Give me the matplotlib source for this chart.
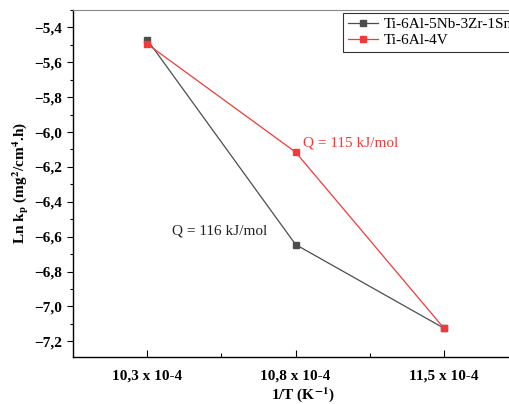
import numpy as np, matplotlib
matplotlib.use('Agg'); import matplotlib.pyplot as plt
from matplotlib.ticker import FixedLocator, MultipleLocator, FuncFormatter

plt.rcParams.update({'font.family':'Liberation Serif','mathtext.fontset':'stix'})

xlabels = ["10,3 x 10-4", "10,8 x 10-4", "11,5 x 10-4"]
ti5nb = [-5.47, -6.645, -7.125]
ti4v = [-5.495, -6.115, -7.125]
names = ["Ti-6Al-5Nb-3Zr-1Sn", "Ti-6Al-4V"]
GREY = "#4D4D4D"; RED = "#F23A3A"

fig = plt.figure(figsize=(5.10, 4.04), dpi=100)
ax = fig.add_axes([73/510, 47/404, 460/510, 347/404])
x = np.arange(len(xlabels))
ax.plot(x, ti5nb, '-s', color=GREY, lw=0.9, ms=5, label=names[0])
ax.plot(x, ti4v, '-s', color=RED, lw=0.9, ms=5, label=names[1])

ax.set_xlim(-0.5, 2.6)
ax.set_ylim(-7.29, -5.30)
ax.set_xticks(x)
ax.set_xticklabels(xlabels, fontweight='bold', fontsize=11)
ax.xaxis.set_minor_locator(FixedLocator([0.5, 1.5]))
ax.yaxis.set_major_locator(MultipleLocator(0.2))
ax.yaxis.set_minor_locator(MultipleLocator(0.1))
ax.yaxis.set_major_formatter(FuncFormatter(lambda v, p: f"{v:.1f}".replace('.', ',').replace('-', '\u2212')))
for t in ax.get_yticklabels():
    t.set_fontweight('bold')
ax.tick_params(axis='y', direction='out', labelsize=11, length=4, width=0.8)
ax.tick_params(axis='y', which='minor', direction='out', length=2.5, width=0.8)
ax.tick_params(axis='x', direction='in', length=5, width=0.8, pad=9)
ax.tick_params(axis='x', which='minor', direction='in', length=3, width=0.8)
for s in ['top', 'right']:
    ax.spines[s].set_color('#888888')
ax.spines['left'].set_linewidth(1.0)
ax.spines['bottom'].set_linewidth(1.0)

ax.set_xlabel("1/T (K$^{\\mathbf{-1}}$)", fontweight='bold', fontsize=11, labelpad=2)
ax.set_ylabel("Ln k$_\\mathbf{p}$ (mg$^\\mathbf{2}$/cm$^\\mathbf{4}$.h)", fontweight='bold', fontsize=11, labelpad=3)

ax.text(1.05, -6.08, "Q = 115 kJ/mol", color=RED, fontsize=11)
ax.text(0.17, -6.585, "Q = 116 kJ/mol", color='#222222', fontsize=11)

# legend runs off the right edge, as in the reference
leg = ax.legend(loc='upper left', fontsize=11, frameon=True, fancybox=False, handlelength=2.0,
                borderpad=0.3, labelspacing=0.15, handletextpad=0.4, borderaxespad=0)
leg.get_frame().set_edgecolor('black')
leg.get_frame().set_linewidth(0.8)
leg.set_bbox_to_anchor((343/510, 1 - 13/404), transform=fig.transFigure)

fig.savefig("out.png", dpi=100)
